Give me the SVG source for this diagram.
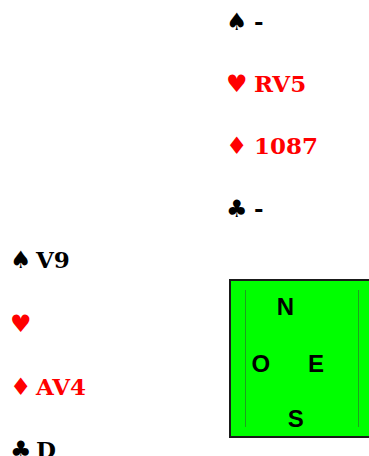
<svg xmlns="http://www.w3.org/2000/svg" width="369" height="456" viewBox="0 0 369 456">
<style>
.c{font-family:"DejaVu Serif","Liberation Serif",serif;font-weight:bold;font-size:23px}
.s{font-family:"DejaVu Sans","Liberation Sans",sans-serif;font-size:24px}
.b{fill:#000}
.r{fill:#ff0000}
.d{font-family:"Liberation Sans",Arial,sans-serif;font-weight:bold;font-size:24px;fill:#000;text-anchor:middle}
</style>
<rect width="369" height="456" fill="#fff"/>
<g id="north">
<text class="s b" x="226" y="30">♠</text><text class="c b" x="254" y="30">-</text>
<text class="s r" x="226" y="92">♥</text><text class="c r" x="254" y="92">RV5</text>
<text class="s r" x="226" y="154">♦</text><text class="c r" x="254" y="154">1087</text>
<text class="s b" x="226" y="217">♣</text><text class="c b" x="254" y="217">-</text>
</g>
<g id="west">
<text class="s b" x="10" y="268">♠</text><text class="c b" x="36" y="268">V9</text>
<text class="s r" x="10" y="332">♥</text>
<text class="s r" x="10" y="395">♦</text><text class="c r" x="36" y="395">AV4</text>
<text class="s b" x="10" y="458">♣</text><text class="c b" x="36" y="458">D</text>
</g>
<g id="table">
<rect x="230" y="280" width="160" height="157" fill="#00ff00" stroke="#1a1a1a" stroke-width="2"/>
<line x1="245.5" y1="290" x2="245.5" y2="427" stroke="#1f9f1f" stroke-width="1"/>
<line x1="358.5" y1="290" x2="358.5" y2="427" stroke="#1f9f1f" stroke-width="1"/>
<text class="d" x="285.3" y="314.5">N</text>
<text class="d" x="260.8" y="371.5">O</text>
<text class="d" x="316" y="371.5">E</text>
<text class="d" x="295.8" y="427">S</text>
</g>
<g id="connectors"/>
</svg>
